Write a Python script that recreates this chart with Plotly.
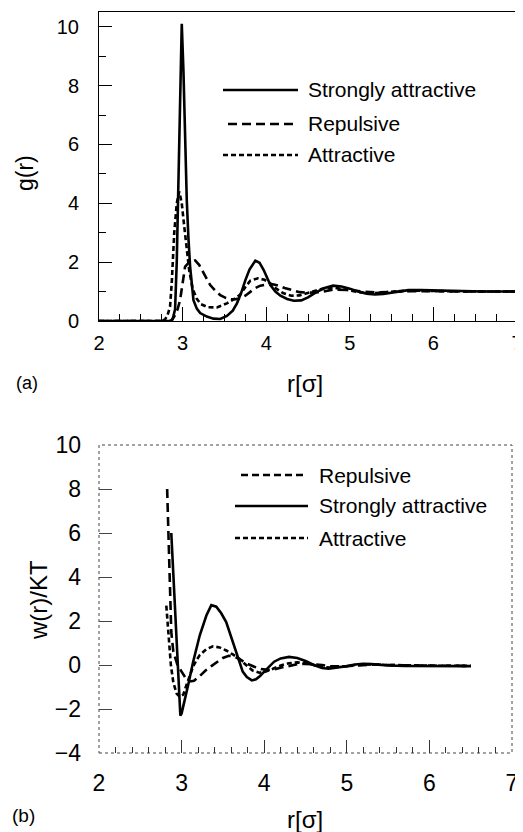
import plotly.graph_objects as go

# ---------------- Panel (a): g(r) ----------------
r_strong_a = [2.0, 2.85, 2.88, 2.91, 2.93, 2.95, 2.97, 2.99, 3.01, 3.03, 3.05, 3.07, 3.09, 3.13, 3.17,
              3.21, 3.29, 3.37, 3.45, 3.53, 3.6, 3.65, 3.7, 3.75, 3.8, 3.87, 3.92, 3.97, 4.05, 4.11,
              4.17, 4.25, 4.33, 4.42, 4.5, 4.6, 4.7, 4.8, 4.9, 5.0, 5.1, 5.2, 5.3, 5.4, 5.5, 5.6,
              5.7, 5.85, 6.0, 6.3, 6.6, 7.0]
g_strong = [0, 0, 0.05, 0.4, 2.0, 4.5, 7.8, 10.1, 8.5, 6.2, 4.1, 2.8, 1.85, 0.71, 0.42,
            0.27, 0.15, 0.08, 0.07, 0.17, 0.35, 0.6, 0.95, 1.38, 1.75, 2.05, 1.98, 1.73, 1.22, 1.0,
            0.86, 0.75, 0.69, 0.7, 0.8, 0.98, 1.12, 1.2, 1.17, 1.1, 1.0, 0.93, 0.9, 0.92, 0.97, 1.02,
            1.05, 1.05, 1.04, 1.02, 1.0, 1.0]

r_rep_a = [2.0, 2.86, 2.9, 2.94, 2.97, 3.0, 3.03, 3.08, 3.15, 3.2, 3.25, 3.33, 3.4, 3.45, 3.52,
           3.57, 3.63, 3.69, 3.75, 3.81, 3.87, 3.93, 4.0, 4.08, 4.15, 4.22, 4.3, 4.4, 4.5, 4.65,
           4.8, 5.0, 5.15, 5.3, 5.5, 5.7, 6.0, 6.5, 7.0]
g_rep = [0, 0, 0.15, 0.4, 0.71, 1.25, 1.85, 2.0, 2.06, 1.9, 1.62, 1.22, 1.0, 0.88, 0.78,
         0.74, 0.74, 0.77, 0.86, 1.0, 1.12, 1.2, 1.24, 1.25, 1.2, 1.12, 1.05, 0.98, 0.96, 0.98,
         1.07, 1.05, 1.0, 0.97, 0.99, 1.01, 1.01, 1.0, 1.0]

r_att_a = [2.0, 2.75, 2.79, 2.82, 2.85, 2.87, 2.9, 2.93, 2.96, 2.99, 3.02, 3.05, 3.08, 3.12, 3.17,
           3.22, 3.3, 3.41, 3.53, 3.62, 3.69, 3.75, 3.81, 3.9, 3.98, 4.05, 4.12, 4.2, 4.3, 4.4,
           4.5, 4.6, 4.7, 4.8, 4.9, 5.0, 5.1, 5.25, 5.4, 5.6, 5.8, 6.2, 7.0]
g_att = [0, 0, 0.05, 0.2, 0.49, 1.29, 3.0, 4.0, 4.4, 4.0, 3.2, 2.4, 1.7, 1.1, 0.75,
         0.57, 0.47, 0.46, 0.6, 0.75, 0.9, 1.15, 1.37, 1.45, 1.4, 1.28, 1.1, 0.95, 0.86, 0.87,
         0.95, 1.05, 1.12, 1.14, 1.1, 1.04, 0.98, 0.94, 0.97, 1.02, 1.03, 1.01, 1.0]

# ---------------- Panel (b): w(r)/KT ----------------
r_strong_b = [2.875, 2.9, 2.925, 2.95, 2.97, 2.985, 3.0, 3.04, 3.08, 3.14, 3.22, 3.3, 3.36, 3.42,
              3.48, 3.54, 3.6, 3.66, 3.7, 3.74, 3.79, 3.85, 3.9, 3.95, 4.0, 4.06, 4.12, 4.2, 4.3,
              4.4, 4.5, 4.6, 4.7, 4.78, 4.9, 5.0, 5.1, 5.2, 5.3, 5.4, 5.5, 5.7, 6.0, 6.3, 6.5]
w_strong = [6.0, 4.0, 2.0, 0.0, -1.6, -2.3, -2.2, -1.6, -0.9, 0.15, 1.35, 2.25, 2.72, 2.65,
            2.35, 1.95, 1.3, 0.6, 0.15, -0.3, -0.55, -0.7, -0.65, -0.5, -0.3, -0.05, 0.15, 0.3, 0.37,
            0.32, 0.18, 0.0, -0.14, -0.17, -0.12, -0.05, 0.02, 0.05, 0.04, 0.01, -0.02, -0.04, -0.04, -0.04, -0.05]

r_rep_b = [2.825, 2.84, 2.855, 2.875, 2.9, 2.95, 3.0, 3.05, 3.1, 3.15, 3.22, 3.29, 3.36, 3.43,
           3.5, 3.57, 3.64, 3.72, 3.8, 3.88, 3.96, 4.04, 4.12, 4.2, 4.3, 4.4, 4.5, 4.6, 4.7,
           4.8, 4.9, 5.0, 5.1, 5.2, 5.35, 5.5, 5.7, 6.0, 6.5]
w_rep = [8.0, 6.0, 4.0, 1.5, 0.6, 0.0, -0.3, -0.6, -0.75, -0.72, -0.5, -0.25, -0.05, 0.15,
         0.32, 0.42, 0.38, 0.22, 0.05, -0.08, -0.18, -0.22, -0.2, -0.12, -0.03, 0.03, 0.05, 0.04, 0.0,
         -0.05, -0.07, -0.06, -0.03, 0.0, 0.02, 0.0, -0.02, -0.03, -0.04]

r_att_b = [2.815, 2.84, 2.87, 2.9, 2.94, 2.98, 3.02, 3.06, 3.1, 3.14, 3.18, 3.22, 3.3, 3.38,
           3.46, 3.54, 3.62, 3.7, 3.78, 3.86, 3.94, 4.02, 4.1, 4.2, 4.3, 4.4, 4.5, 4.6, 4.7,
           4.8, 4.9, 5.0, 5.1, 5.2, 5.3, 5.5, 5.7, 6.0, 6.5]
w_att = [2.7, 1.5, 0.0, -0.8, -1.3, -1.45, -1.35, -0.9, -0.45, -0.07, 0.22, 0.45, 0.72, 0.85,
         0.8, 0.66, 0.48, 0.28, 0.0, -0.25, -0.35, -0.3, -0.18, -0.02, 0.08, 0.12, 0.08, 0.0, -0.08,
         -0.12, -0.1, -0.05, 0.0, 0.03, 0.03, 0.0, -0.02, -0.03, -0.04]

x_ticks = [2, 3, 4, 5, 6, 7]
ya_ticks = [0, 2, 4, 6, 8, 10]
yb_ticks = [-4, -2, 0, 2, 4, 6, 8, 10]

# the page body has an 8px margin, so the figure is drawn 8px in from the top-left
OFF = 8
W, H = 523 - OFF, 832 - OFF
FONT = "Liberation Sans, Arial, sans-serif"
SOLID = dict(color="black", width=2.6)
DASH = dict(color="black", width=2.6, dash="9px,5px")
DOT = dict(color="black", width=2.6, dash="5px,3px")


def px(x):
    return (x - OFF) / W


def py(y):
    return 1 - (y - OFF) / H


fig = go.Figure()
fig.add_trace(go.Scatter(x=r_strong_a, y=g_strong, mode="lines", line=SOLID, xaxis="x", yaxis="y", showlegend=False))
fig.add_trace(go.Scatter(x=r_rep_a, y=g_rep, mode="lines", line=DASH, xaxis="x", yaxis="y", showlegend=False))
fig.add_trace(go.Scatter(x=r_att_a, y=g_att, mode="lines", line=DOT, xaxis="x", yaxis="y", showlegend=False))
fig.add_trace(go.Scatter(x=r_rep_b, y=w_rep, mode="lines", line=DASH, xaxis="x2", yaxis="y2", showlegend=False))
fig.add_trace(go.Scatter(x=r_strong_b, y=w_strong, mode="lines", line=SOLID, xaxis="x2", yaxis="y2", showlegend=False))
fig.add_trace(go.Scatter(x=r_att_b, y=w_att, mode="lines", line=DOT, xaxis="x2", yaxis="y2", showlegend=False))

fig.update_layout(
    template="none",
    width=W, height=H,
    margin=dict(l=0, r=0, t=0, b=0, pad=0),
    paper_bgcolor="white", plot_bgcolor="white",
    font=dict(family=FONT, color="black"),
    showlegend=False,
    xaxis=dict(range=[2, 7], tickvals=x_ticks, ticks="inside", ticklen=14, tickwidth=1, tickcolor="black",
               showgrid=False, zeroline=False, showline=True, linecolor="black", linewidth=1, mirror=True,
               domain=[px(99), min(1, px(517))], anchor="y", automargin=False, ticklabeloverflow="allow",
               minor=dict(dtick=0.25, ticks="inside", ticklen=7, tickcolor="black", showgrid=False),
               tickfont=dict(size=20), ticklabelstandoff=4),
    yaxis=dict(range=[0, 10.5], tickvals=ya_ticks, domain=[py(321), py(12)], anchor="x",
               ticks="inside", ticklen=13, tickcolor="black", showgrid=False, zeroline=False,
               showline=True, linecolor="black", linewidth=1, mirror=True, automargin=False,
               minor=dict(dtick=1, ticks="inside", ticklen=7, tickcolor="black", showgrid=False),
               tickfont=dict(size=20), ticklabelstandoff=15, ticklabeloverflow="allow"),
    xaxis2=dict(range=[2, 7], tickvals=x_ticks, ticks="inside", ticklen=13, tickcolor="#333",
                showgrid=False, zeroline=False, showline=False, automargin=False,
                domain=[px(99), px(512)], anchor="y2", ticklabeloverflow="allow",
                minor=dict(dtick=0.2, ticks="inside", ticklen=6, tickcolor="#333", showgrid=False),
                tickfont=dict(size=23), ticklabelstandoff=14),
    yaxis2=dict(range=[-4, 10], tickvals=yb_ticks, domain=[py(753), py(445)], anchor="x2",
                ticks="inside", ticklen=13, tickcolor="#444", showgrid=False, zeroline=False,
                showline=False, automargin=False, ticklabeloverflow="allow",
                tickfont=dict(size=23), ticklabelstandoff=17),
)

# dotted frame of panel (b)
fig.add_shape(type="rect", xref="x2 domain", yref="y2 domain", x0=0, x1=1, y0=0, y1=1,
              line=dict(color="#444", width=1, dash="dot"), layer="below")

ann = []


def text(x, y, s, size, angle=0, xanchor="center"):
    ann.append(dict(x=px(x), y=py(y), xref="paper", yref="paper", text=s, showarrow=False,
                    font=dict(size=size, family=FONT, color="black"), textangle=angle,
                    xanchor=xanchor, yanchor="middle"))


text(25, 173, "g(r)", 23, -90)
text(305, 383, "r[σ]", 24)
text(27, 383, "(a)", 18)
text(38, 600, "w(r)/KT", 24, -90)
text(305, 819, "r[σ]", 24)
text(23, 815, "(b)", 19)

# legend panel (a)
leg_a = [("Strongly attractive", SOLID, 90, 223, 298),
         ("Repulsive", DASH, 124, 228, 293),
         ("Attractive", DOT, 155, 223, 298)]
for lab, st, yy, x0, x1 in leg_a:
    fig.add_shape(type="line", xref="paper", yref="paper", x0=px(x0), x1=px(x1), y0=py(yy), y1=py(yy), line=st)
    text(306, yy, lab, 21, xanchor="left")

# legend panel (b)
leg_b = [("Repulsive", dict(DASH, dash="7px,4px"), 475, 241, 303),
         ("Strongly attractive", SOLID, 506, 235, 308),
         ("Attractive", DOT, 538, 235, 308)]
for lab, st, yy, x0, x1 in leg_b:
    fig.add_shape(type="line", xref="paper", yref="paper", x0=px(x0), x1=px(x1), y0=py(yy), y1=py(yy), line=st)
    text(317, yy, lab, 21, xanchor="left")

fig.update_layout(annotations=ann)
fig.write_html("out.html")
